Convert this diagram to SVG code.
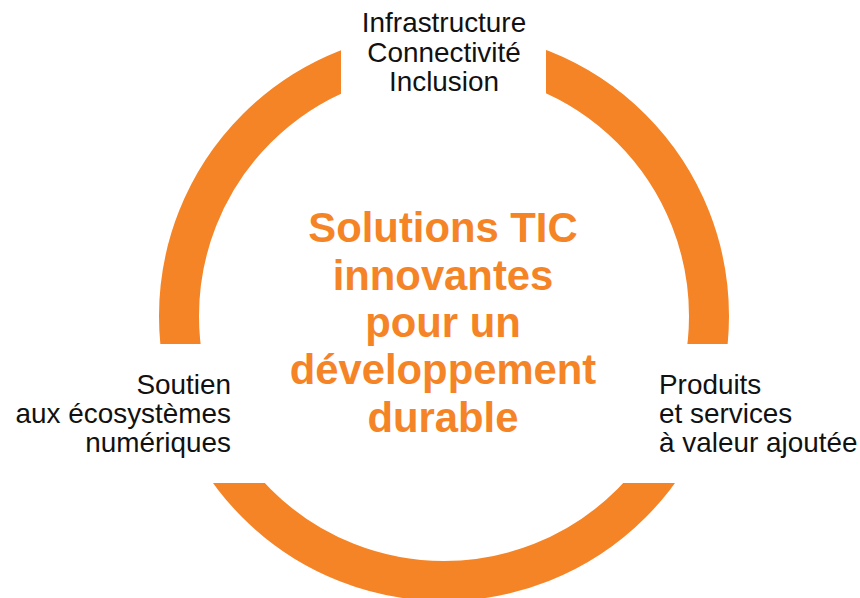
<svg xmlns="http://www.w3.org/2000/svg" width="860" height="598" viewBox="0 0 860 598">
  <style>
    .lbl { font-family: "Liberation Sans", Arial, Helvetica, sans-serif; font-size: 27.9px; fill: #111111; }
    .mid { text-anchor: middle; }
    .end { text-anchor: end; }
    .core { font-family: "Liberation Sans", Arial, Helvetica, sans-serif; font-size: 41.8px; font-weight: bold; fill: #F58426; text-anchor: middle; }
    .ring { fill: none; stroke: #F58426; stroke-width: 40; }
  </style>
  <defs>
    <clipPath id="gaps">
      <path clip-rule="evenodd" d="M0 0H860V598H0Z M341 0H546V150H341Z M0 344H300V483H0Z M590 344H860V483H590Z"/>
    </clipPath>
  </defs>
  <rect width="860" height="598" fill="#ffffff"/>
  <g id="connectors">
    <circle class="ring" cx="444" cy="316" r="265" clip-path="url(#gaps)"/>
  </g>
  <g id="center">
    <text class="core" x="443" y="242">Solutions TIC</text>
    <text class="core" x="443" y="289.5">innovantes</text>
    <text class="core" x="443" y="337">pour un</text>
    <text class="core" x="443" y="384">développement</text>
    <text class="core" x="443" y="431.5">durable</text>
  </g>
  <g id="top">
    <text class="lbl mid" x="444" y="32.3">Infrastructure</text>
    <text class="lbl mid" x="444" y="61.5">Connectivité</text>
    <text class="lbl mid" x="444" y="90.7">Inclusion</text>
  </g>
  <g id="left">
    <text class="lbl end" x="231" y="394.3">Soutien</text>
    <text class="lbl end" x="231" y="423">aux écosystèmes</text>
    <text class="lbl end" x="231" y="451.7">numériques</text>
  </g>
  <g id="right">
    <text class="lbl" x="659" y="394.3">Produits</text>
    <text class="lbl" x="659" y="423">et services</text>
    <text class="lbl" x="659" y="451.7">à valeur ajoutée</text>
  </g>
</svg>
